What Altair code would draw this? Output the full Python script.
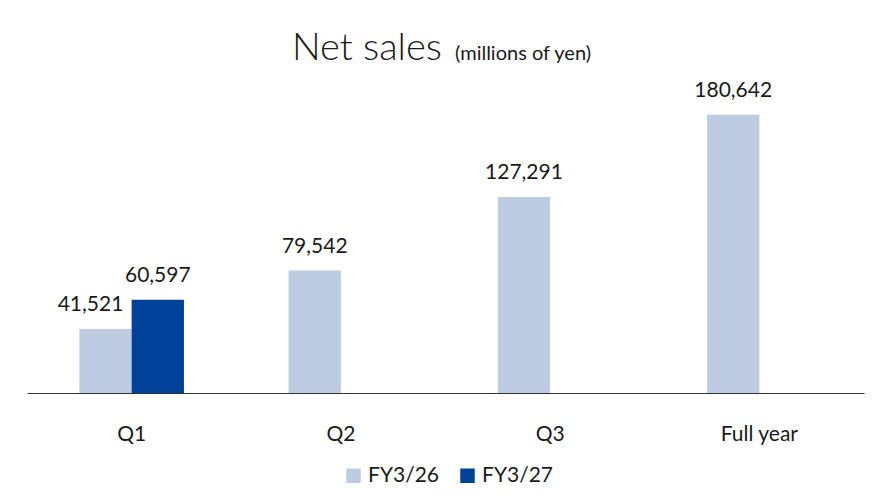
import altair as alt
import pandas as pd

periods = ["Q1", "Q2", "Q3", "Full year"]
series = ["FY3/26", "FY3/27"]
fy26 = [41521, 79542, 127291, 180642]
fy27 = [60597, None, None, None]
colors = ["#BDCCE3", "#00419A"]

rows = []
for p, a, b in zip(periods, fy26, fy27):
    if a is not None:
        rows.append({"period": p, "fy": series[0], "value": a})
    if b is not None:
        rows.append({"period": p, "fy": series[1], "value": b})
df = pd.DataFrame(rows)

FONT = "Lato"
W = 400
TW = 300
TXT = "#1a1a1a"

x = alt.X("period:N", sort=periods,
          scale=alt.Scale(paddingInner=0.5, paddingOuter=0.25),
          axis=alt.Axis(title=None, labelAngle=0, ticks=False, labelFontSize=21,
                        labelPadding=30, labelColor=TXT, domainColor="#333333",
                        labelFont=FONT, labelFontWeight=W, grid=False))
xo = alt.XOffset("fy:N", sort=series)
y = alt.Y("value:Q", scale=alt.Scale(domain=[0, 200000]), axis=None)

base = alt.Chart(df)

bars = base.mark_bar().encode(
    x=x, xOffset=xo, y=y,
    color=alt.Color("fy:N", sort=series,
                    scale=alt.Scale(domain=series, range=colors),
                    legend=alt.Legend(title=None, orient="none", legendX=316, legendY=380,
                                      direction="horizontal", symbolType="square",
                                      symbolSize=210, symbolStrokeWidth=0,
                                      labelFontSize=21, labelFont=FONT, labelFontWeight=W,
                                      labelColor=TXT,
                                      columnPadding=17, labelOffset=4, padding=0)),
)

label_enc = dict(x=x, xOffset=xo, y=y, text=alt.Text("value:Q", format=","))
labels = base.mark_text(baseline="bottom", dy=-14, fontSize=21, font=FONT, fontWeight=W, color=TXT).encode(
    **label_enc
).transform_filter("!(datum.period == 'Q1' && datum.fy == 'FY3/26')")
labels_shift = base.mark_text(baseline="bottom", dy=-14, dx=-15, fontSize=21, font=FONT, fontWeight=W, color=TXT).encode(
    **label_enc
).transform_filter("datum.period == 'Q1' && datum.fy == 'FY3/26'")

title_main = alt.Chart(pd.DataFrame({"t": ["Net sales"]})).mark_text(
    align="right", baseline="alphabetic", fontSize=38, font=FONT, fontWeight=TW, color=TXT
).encode(x=alt.value(415), y=alt.value(-25), text="t:N")
title_sub = alt.Chart(pd.DataFrame({"t": ["(millions of yen)"]})).mark_text(
    align="left", baseline="alphabetic", fontSize=20, font=FONT, fontWeight=W, color=TXT
).encode(x=alt.value(428), y=alt.value(-25), text="t:N")

chart = alt.layer(bars, labels, labels_shift, title_main, title_sub).properties(
    width=837, height=308,
    autosize=alt.AutoSizeParams(type="none"),
    padding={"left": 19, "top": 77, "right": 19, "bottom": 101},
).configure(font=FONT, background="white", view=alt.ViewConfig(stroke=None, strokeWidth=0))

chart.save("out.html", embed_options={"renderer": "svg", "actions": False})
